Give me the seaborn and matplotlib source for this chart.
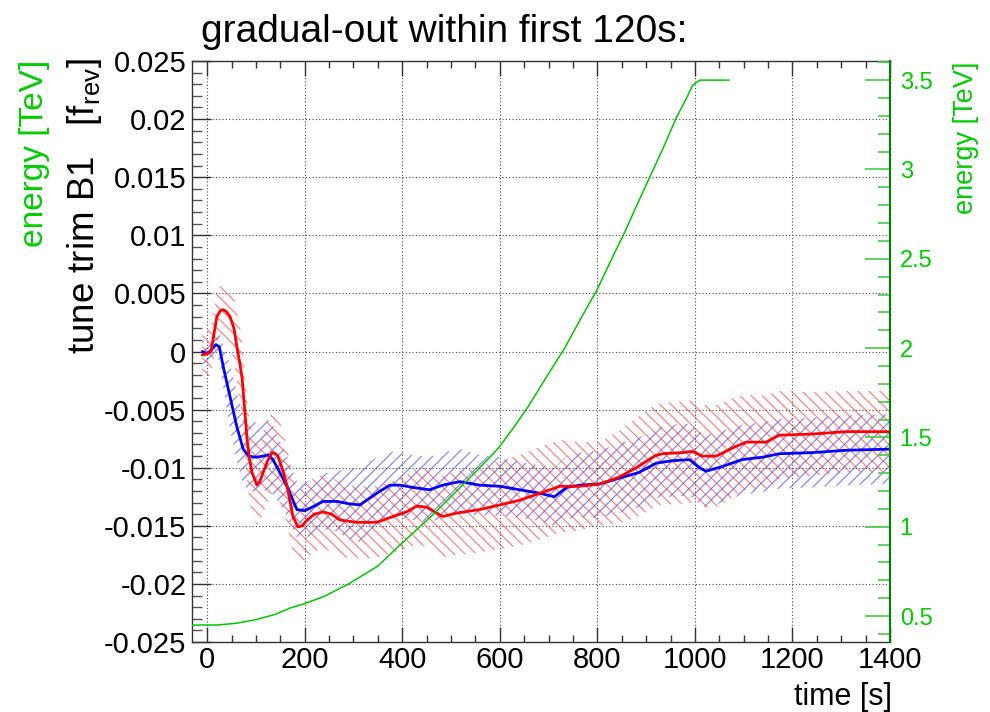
import numpy as np
import pandas as pd
import matplotlib
matplotlib.use("Agg")
import matplotlib.pyplot as plt
import seaborn as sns
from matplotlib.ticker import MultipleLocator, FuncFormatter

# ---------------- data ----------------
title = "gradual-out within first 120s:"
x_label = "time [s]"
y_label = r"tune trim B1   [f$_{\mathrm{rev}}$]"
e_label = "energy [TeV]"

t_blue = [-10, 0, 10, 18, 25, 33, 47, 61, 74, 85, 100, 115, 125, 135, 145, 164, 184,
          200, 215, 238, 266, 290, 313, 334, 355, 375, 395, 422, 456, 483, 518, 559,
          600, 641, 682, 712, 737, 764, 805, 845, 886, 921, 954, 989, 1009, 1023,
          1056, 1097, 1138, 1173, 1241, 1310, 1400]
tune_blue = [0.0, -0.0002, 0.0002, 0.0006, 0.0004, -0.0013, -0.0039, -0.0065, -0.0084,
             -0.0090, -0.0091, -0.0090, -0.0089, -0.0093, -0.0101, -0.0116, -0.0136,
             -0.0137, -0.0134, -0.0129, -0.0129, -0.0131, -0.0132, -0.0126, -0.0120,
             -0.0115, -0.0115, -0.0117, -0.0119, -0.0115, -0.0112, -0.0115, -0.0116,
             -0.0119, -0.0122, -0.0125, -0.0117, -0.0115, -0.0114, -0.0109, -0.0104,
             -0.0096, -0.0094, -0.0093, -0.0100, -0.0103, -0.0099, -0.0093, -0.0091,
             -0.0088, -0.0087, -0.0085, -0.0084]
err_blue = [0.0010, 0.0010, 0.0010, 0.0010, 0.0012, 0.0018, 0.0028, 0.0030, 0.0030,
            0.0030, 0.0030, 0.0030, 0.0030, 0.0030, 0.0028, 0.0026, 0.0024,
            0.0024, 0.0024, 0.0024, 0.0026, 0.0030, 0.0032, 0.0032, 0.0030,
            0.0029, 0.0028, 0.0028, 0.0028, 0.0028, 0.0028, 0.0026, 0.0025,
            0.0024, 0.0024, 0.0025, 0.0027, 0.0028, 0.0029, 0.0030, 0.0030,
            0.0030, 0.0031, 0.0031, 0.0031, 0.0031, 0.0031, 0.0030, 0.0030,
            0.0030, 0.0030, 0.0030, 0.0030]

t_red = [-10, 0, 8, 14, 20, 27, 33, 40, 47, 55, 61, 67, 72, 77, 82, 87, 92, 102, 108,
         115, 124, 133, 140, 145, 155, 164, 176, 186, 195, 205, 220, 238, 255, 272,
         307, 348, 381, 409, 430, 450, 483, 512, 559, 600, 641, 682, 723, 764, 805,
         845, 880, 917, 933, 974, 995, 1015, 1044, 1077, 1105, 1146, 1173, 1241,
         1310, 1400]
tune_red = [-0.0003, -0.0002, 0.0, 0.0015, 0.0030, 0.0035, 0.0036, 0.0034, 0.0030,
            0.0020, 0.0004, -0.0010, -0.0024, -0.0050, -0.0076, -0.0093, -0.0104,
            -0.0115, -0.0112, -0.0104, -0.0094, -0.0087, -0.0088, -0.0090, -0.0102,
            -0.0116, -0.0142, -0.0151, -0.0150, -0.0145, -0.0140, -0.0138, -0.0140,
            -0.0145, -0.0147, -0.0147, -0.0142, -0.0138, -0.0133, -0.0134, -0.0142,
            -0.0139, -0.0136, -0.0132, -0.0128, -0.0122, -0.0116, -0.0116, -0.0114,
            -0.0108, -0.0100, -0.0090, -0.0088, -0.0087, -0.0086, -0.0090, -0.0090,
            -0.0083, -0.0078, -0.0078, -0.0072, -0.0071, -0.0069, -0.0069]
err_red = [0.0020, 0.0020, 0.0020, 0.0021, 0.0022, 0.0022, 0.0022, 0.0023, 0.0025,
           0.0028, 0.0030, 0.0032, 0.0034, 0.0035, 0.0035, 0.0035, 0.0035,
           0.0035, 0.0035, 0.0035, 0.0035, 0.0035, 0.0035, 0.0035, 0.0034,
           0.0033, 0.0032, 0.0032, 0.0032, 0.0032, 0.0032, 0.0032, 0.0032,
           0.0032, 0.0031, 0.0031, 0.0031, 0.0032, 0.0033, 0.0034, 0.0035,
           0.0036, 0.0037, 0.0038, 0.0039, 0.0040, 0.0040, 0.0038, 0.0036,
           0.0040, 0.0043, 0.0044, 0.0044, 0.0044, 0.0044, 0.0044, 0.0044,
           0.0043, 0.0041, 0.0040, 0.0038, 0.0036, 0.0035, 0.0035]

t_energy = [-31, 20, 60, 100, 140, 170, 200, 240, 290, 350, 400, 460, 530, 580, 600,
            627, 660, 696, 733, 765, 800, 833, 853, 881, 908, 935, 962, 983, 995,
            1010, 1070]
energy = [0.45, 0.45, 0.46, 0.48, 0.51, 0.545, 0.57, 0.61, 0.68, 0.78, 0.91, 1.06,
          1.25, 1.39, 1.45, 1.55, 1.68, 1.84, 2.00, 2.16, 2.33, 2.52, 2.63, 2.80,
          2.96, 3.12, 3.29, 3.40, 3.47, 3.50, 3.50]

df_blue = pd.DataFrame({"time": t_blue, "tune": tune_blue, "err": err_blue})
df_red = pd.DataFrame({"time": t_red, "tune": tune_red, "err": err_red})
df_energy = pd.DataFrame({"time": t_energy, "energy": energy})

# ---------------- style ----------------
sns.set_theme(style="white")
plt.rcParams["font.family"] = ["Liberation Sans", "DejaVu Sans"]
plt.rcParams["mathtext.fontset"] = "custom"
plt.rcParams["mathtext.rm"] = "Liberation Sans"
plt.rcParams["mathtext.it"] = "Liberation Sans:italic"
plt.rcParams["axes.unicode_minus"] = False
plt.rcParams["hatch.linewidth"] = 0.9

GREEN = "#00c800"
GREEN_TXT = "#00cc00"

fig = plt.figure(figsize=(9.9, 7.12), dpi=100)
fig.patch.set_facecolor("white")
ax = fig.add_axes([192 / 990, 70 / 712, 698 / 990, 581 / 712])

# hatched error bands
ax.fill_between(df_blue["time"], df_blue["tune"] - df_blue["err"], df_blue["tune"] + df_blue["err"],
                facecolor="none", edgecolor=(0.15, 0.15, 1.0, 0.55), hatch="///", linewidth=0)
ax.fill_between(df_red["time"], df_red["tune"] - df_red["err"], df_red["tune"] + df_red["err"],
                facecolor="none", edgecolor=(1.0, 0.2, 0.2, 0.6), hatch="\\\\\\", linewidth=0)

sns.lineplot(data=df_blue, x="time", y="tune", ax=ax, color="#0000ff", linewidth=2.0,
             estimator=None, sort=False)
sns.lineplot(data=df_red, x="time", y="tune", ax=ax, color="#ff0000", linewidth=2.0,
             estimator=None, sort=False)

ax.set_xlim(-31, 1400)
ax.set_ylim(-0.025, 0.025)
ax.set_xlabel("")
ax.set_ylabel("")

fmt = FuncFormatter(lambda v, p: f"{round(v, 3) + 0.0:g}")
ax.xaxis.set_major_locator(MultipleLocator(200))
ax.xaxis.set_minor_locator(MultipleLocator(50))
ax.yaxis.set_major_locator(MultipleLocator(0.005))
ax.yaxis.set_minor_locator(MultipleLocator(0.001))
ax.yaxis.set_major_formatter(fmt)
ax.xaxis.set_major_formatter(FuncFormatter(lambda v, p: f"{v:g}"))

ax.tick_params(axis="x", which="major", direction="in", length=11, width=1, color="#333333",
               top=True, bottom=True, labelsize=21, pad=3, labelcolor="black")
ax.tick_params(axis="x", which="minor", direction="in", length=5, width=1, color="#333333",
               top=True, bottom=True)
ax.tick_params(axis="y", which="major", direction="in", length=14, width=1, color="#333333",
               left=True, right=False, labelsize=21, pad=4, labelcolor="black")
ax.tick_params(axis="y", which="minor", direction="in", length=7, width=1, color="#555555",
               left=True, right=False)

ax.grid(True, which="major", linestyle=(0, (1, 2)), color="#444444", linewidth=0.8)
ax.set_axisbelow(True)
for side in ["left", "top", "bottom"]:
    ax.spines[side].set_color("#333333")
    ax.spines[side].set_linewidth(1.0)
ax.spines["right"].set_visible(False)

# energy on the right axis
ax2 = ax.twinx()
sns.lineplot(data=df_energy, x="time", y="energy", ax=ax2, color=GREEN, linewidth=1.1,
             estimator=None, sort=False)
ax2.set_ylim(0.355, 3.607)
ax2.set_ylabel("")
ax2.grid(False)
ax2.yaxis.set_major_locator(MultipleLocator(0.5))
ax2.yaxis.set_minor_locator(MultipleLocator(0.1))
ax2.yaxis.set_major_formatter(FuncFormatter(lambda v, p: f"{round(v, 2) + 0.0:g}"))
ax2.tick_params(axis="y", which="major", direction="in", length=18, width=1.2, color="#44cc44",
                labelcolor=GREEN_TXT, labelsize=17, pad=7, right=True, left=False)
ax2.tick_params(axis="y", which="minor", direction="in", length=8.5, width=1.2, color="#44cc44",
                right=True, left=False)
for side in ["left", "top", "bottom"]:
    ax2.spines[side].set_visible(False)
ax2.spines["right"].set_color("#008000")
ax2.spines["right"].set_linewidth(1.5)
ax2.patch.set_visible(False)

# texts
fig.text(444 / 990, 1 - 42 / 712, title, ha="center", va="baseline", fontsize=28, color="black")
fig.text(892 / 990, 1 - 705 / 712, x_label, ha="right", va="baseline", fontsize=22, color="black")
fig.text(85 / 990, 1 - 58 / 712, y_label, rotation=90, ha="center", va="top", fontsize=26.5,
         color="black")
fig.text(35 / 990, 1 - 60 / 712, e_label, rotation=90, ha="center", va="top", fontsize=24,
         color=GREEN_TXT)
fig.text(966 / 990, 1 - 62 / 712, e_label, rotation=90, ha="center", va="top", fontsize=19.5,
         color=GREEN_TXT)

fig.savefig("out.png", dpi=100, facecolor="white")
